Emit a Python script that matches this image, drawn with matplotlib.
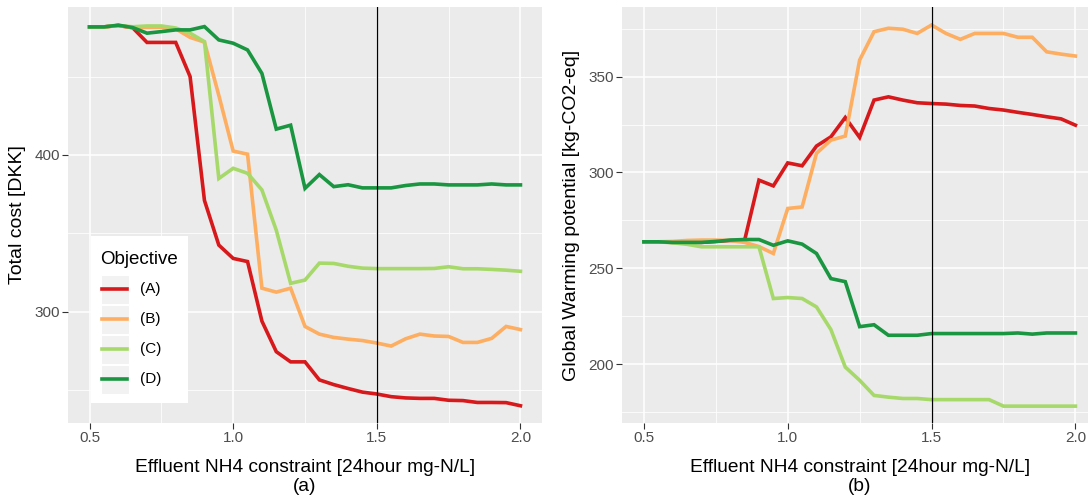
import matplotlib
matplotlib.use("Agg")
import matplotlib.pyplot as plt
from matplotlib.patches import Rectangle
from matplotlib.lines import Line2D
from matplotlib.ticker import MultipleLocator

plt.rcParams['font.family'] = ['Liberation Sans', 'DejaVu Sans']

# Effluent NH4 constraint grid [24hour mg-N/L]
nh4_limit = [0.50, 0.55, 0.60, 0.65, 0.70, 0.75, 0.80, 0.85, 0.90, 0.95,
             1.00, 1.05, 1.10, 1.15, 1.20, 1.25, 1.30, 1.35, 1.40, 1.45,
             1.50, 1.55, 1.60, 1.65, 1.70, 1.75, 1.80, 1.85, 1.90, 1.95, 2.00]

objectives = ["(A)", "(B)", "(C)", "(D)"]
colors = ["#d7191c", "#fdae61", "#a6d96a", "#1a9641"]

# Total cost [DKK] per objective
cost_A = [481.7, 481.7, 482.6, 481.2, 471.8, 471.8, 471.8, 450.0, 371.0, 342.5,
          334.0, 332.0, 294.0, 274.5, 268.0, 268.0, 256.5, 253.5, 251.0, 248.7,
          247.5, 245.8, 245.0, 244.7, 244.7, 243.5, 243.3, 242.1, 242.1, 242.0, 240.0]
cost_B = [481.7, 481.7, 482.6, 481.2, 481.5, 481.5, 480.5, 475.0, 472.0, 438.0,
          402.5, 400.5, 315.0, 312.5, 315.0, 290.6, 285.7, 283.6, 282.5, 281.6,
          280.0, 278.1, 282.7, 285.7, 284.5, 284.2, 280.4, 280.4, 283.0, 290.6, 288.6]
cost_C = [481.7, 481.7, 482.6, 481.8, 482.3, 482.3, 481.0, 477.7, 472.3, 385.0,
          391.5, 388.3, 377.7, 352.0, 318.1, 320.2, 331.0, 330.8, 329.0, 327.8,
          327.5, 327.5, 327.5, 327.5, 327.6, 328.7, 327.4, 327.4, 327.0, 326.5, 325.8]
cost_D = [481.7, 481.7, 482.8, 481.3, 477.7, 478.7, 479.8, 479.8, 481.9, 473.4,
          471.3, 467.0, 452.0, 416.5, 419.0, 378.7, 387.5, 379.8, 381.0, 379.0,
          379.0, 379.0, 380.5, 381.5, 381.5, 380.9, 380.9, 380.9, 381.5, 380.9, 380.9]

# Global warming potential [kg-CO2-eq] per objective
gwp_A = [263.8, 263.8, 263.5, 263.5, 263.5, 264.0, 264.5, 264.5, 296.0, 293.0,
         305.0, 303.5, 313.8, 318.6, 328.7, 318.3, 337.8, 339.5, 337.8, 336.4,
         336.0, 335.7, 335.0, 334.7, 333.4, 332.6, 331.4, 330.3, 329.1, 328.0, 324.7]
gwp_B = [263.8, 263.8, 264.0, 264.5, 264.7, 264.7, 264.5, 263.5, 261.3, 257.7,
         281.2, 282.0, 310.0, 316.9, 319.0, 358.7, 373.5, 375.3, 374.8, 372.6,
         377.0, 372.6, 369.5, 372.6, 372.6, 372.6, 370.6, 370.6, 363.0, 361.8, 360.8]
gwp_C = [263.8, 263.8, 263.3, 262.5, 261.2, 261.2, 261.2, 261.2, 261.2, 234.2,
         234.7, 234.2, 229.8, 218.0, 198.4, 191.5, 183.6, 182.7, 182.0, 182.0,
         181.4, 181.4, 181.4, 181.4, 181.4, 178.0, 178.0, 178.0, 178.0, 178.0, 178.0]
gwp_D = [263.8, 263.8, 263.5, 263.5, 263.5, 264.0, 264.7, 265.0, 265.0, 262.0,
         264.3, 262.6, 257.7, 244.6, 243.0, 219.5, 220.5, 215.0, 215.0, 215.0,
         215.9, 215.9, 215.9, 215.9, 215.9, 215.9, 216.2, 215.6, 216.2, 216.2, 216.2]

cost_series = [cost_A, cost_B, cost_C, cost_D]
gwp_series = [gwp_A, gwp_B, gwp_C, gwp_D]

W, H = 1088, 500
fig = plt.figure(figsize=(W / 100, H / 100), dpi=100)


def px_box(x0, y0, x1, y1):
    """Figure-fraction rectangle from pixel edges (origin at top left)."""
    return [x0 / W, 1 - y1 / H, (x1 - x0) / W, (y1 - y0) / H]


ax1 = fig.add_axes(px_box(68, 7, 542, 423))
ax2 = fig.add_axes(px_box(622.3, 7, 1097, 423))


def style(ax):
    ax.set_facecolor("#EBEBEB")
    for s in ax.spines.values():
        s.set_visible(False)
    ax.xaxis.set_major_locator(MultipleLocator(0.5))
    ax.xaxis.set_minor_locator(MultipleLocator(0.25))
    ax.grid(which="major", color="white", linewidth=1.1)
    ax.grid(which="minor", color="white", linewidth=0.55)
    ax.set_axisbelow(True)
    ax.tick_params(which="major", length=4, width=0.8, color="#333333",
                   labelcolor="#4D4D4D", labelsize=11, pad=2)
    ax.tick_params(which="minor", length=0)
    ax.set_xlim(0.425, 2.075)
    ax.xaxis.set_major_formatter(matplotlib.ticker.FormatStrFormatter("%.1f"))


for ax in (ax1, ax2):
    style(ax)

for vals, c, lab in zip(cost_series, colors, objectives):
    ax1.plot(nh4_limit, vals, color=c, lw=2.6, label=lab, solid_joinstyle="miter")
for vals, c, lab in zip(gwp_series, colors, objectives):
    ax2.plot(nh4_limit, vals, color=c, lw=2.6, label=lab, solid_joinstyle="miter")

for ax in (ax1, ax2):
    ax.axvline(1.5, color="black", lw=0.9, zorder=5)

ax1.set_ylim(229, 494.4)
ax1.yaxis.set_major_locator(MultipleLocator(100))
ax1.yaxis.set_minor_locator(MultipleLocator(50))
ax2.set_ylim(169.2, 386.4)
ax2.yaxis.set_major_locator(MultipleLocator(50))
ax2.yaxis.set_minor_locator(MultipleLocator(25))

xlab = "Effluent NH4 constraint [24hour mg-N/L]"
ax1.set_xlabel(xlab + "\n(a)", fontsize=13.8, linespacing=1.15, va="center")
ax2.set_xlabel(xlab + "\n(b)", fontsize=13.8, linespacing=1.15, va="center")
ax1.xaxis.set_label_coords(0.5, -(477 - 423) / 416)
ax2.xaxis.set_label_coords(0.5, -(477 - 423) / 416)

ax1.set_ylabel("Total cost [DKK]", fontsize=14, va="center")
ax2.set_ylabel("Global Warming potential [kg-CO2-eq]", fontsize=14, va="center")
ax1.yaxis.set_label_coords((18 - 68) / 474, 0.5)
ax2.yaxis.set_label_coords((572 - 622.3) / 474.7, 0.5)

# Legend box drawn in figure pixel space
def fx(px):
    return px / W


def fy(py):
    return 1 - py / H


fig.patches.append(Rectangle((fx(90.7), fy(403.3)), fx(187.7) - fx(90.7),
                             fy(236) - fy(403.3), transform=fig.transFigure,
                             facecolor="white", edgecolor="none", zorder=10))
fig.text(fx(100), fy(259), "Objective", fontsize=13.5, va="center", ha="left",
         zorder=11)
row_centers = [289, 319, 349, 379]
for yc, c, lab in zip(row_centers, colors, objectives):
    fig.patches.append(Rectangle((fx(100.7), fy(yc + 14.5)), fx(129.3) - fx(100.7),
                                 fy(yc - 14.5) - fy(yc + 14.5),
                                 transform=fig.transFigure, facecolor="#F2F2F2",
                                 edgecolor="white", lw=0.8, zorder=11))
    fig.lines.append(Line2D([fx(102), fx(127)], [fy(yc), fy(yc)],
                            transform=fig.transFigure, color=c, lw=2.6,
                            zorder=12))
    fig.text(fx(140), fy(yc), lab, fontsize=11, va="center", ha="left",
             zorder=12)

fig.savefig("out.png", dpi=100)
